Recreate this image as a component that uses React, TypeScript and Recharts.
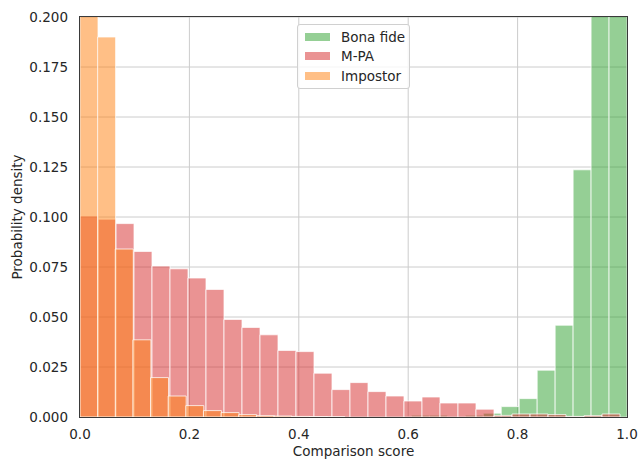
import React from 'react';
import { ComposedChart, Bar, XAxis, YAxis, CartesianGrid, Legend } from 'recharts';

// share of samples per bin (30 bins per series, each series has its own bin range)
const bonaFide = [
  0, 0, 0, 0, 0, 0, 0, 0, 0, 0, 0, 0, 0, 0, 0, 0, 0, 0,
  0.0009, 0.0009, 0, 0.0009, 0.0019, 0.0052, 0.0092, 0.0234, 0.0459, 0.1236, 0.27, 0.52,
];
const mpa = [
  0.1005, 0.0989, 0.0967, 0.0828, 0.0755, 0.0741, 0.0695, 0.0638, 0.0488, 0.0448,
  0.0411, 0.0333, 0.0327, 0.0219, 0.0137, 0.0172, 0.0127, 0.0105, 0.008, 0.01,
  0.007, 0.007, 0.0039, 0.0008, 0.0015, 0.0015, 0.0012, 0.0003, 0.0007, 0.0015,
];
const impostor = [
  0.643, 0.19, 0.084, 0.0386, 0.0197, 0.0105, 0.0057, 0.0032, 0.0022, 0.0012,
  0.0007, 0.0005, 0.0003, 0.0002, 0.0001, 0, 0, 0, 0, 0,
  0, 0, 0, 0, 0, 0, 0, 0, 0, 0,
];

const xTicks = [0, 0.2, 0.4, 0.6, 0.8, 1.0];
const yTicks = [0, 0.025, 0.05, 0.075, 0.1, 0.125, 0.15, 0.175, 0.2];

const series = [
  { key: 'bona', name: 'Bona fide', color: '#2ca02c', axis: 'g' },
  { key: 'mpa', name: 'M-PA', color: '#d62728', axis: 'r' },
  { key: 'imp', name: 'Impostor', color: '#ff7f0e', axis: 'o' },
];

const data = mpa.map((v, i) => ({
  bin: i,
  bona: bonaFide[i],
  mpa: v,
  imp: impostor[i],
}));

const FONT = 'DejaVu Sans, sans-serif';
const TEXT = '#262626';
const SPINE = '#3a3a3a';

// plot box (matches chart margins + axis sizes below)
const PLOT = { left: 80, top: 17, width: 547, height: 400 };

function LegendBox() {
  return (
    <div
      style={{
        position: 'relative',
        width: 111,
        height: 63,
        border: '1px solid #d0d0d0',
        borderRadius: 3,
        background: 'rgba(255,255,255,0.8)',
        fontFamily: FONT,
        fontSize: 13.5,
        color: TEXT,
        boxSizing: 'content-box',
      }}
    >
      {series.map((s, i) => (
        <div
          key={s.key}
          style={{ position: 'absolute', left: 0, top: 4 + i * 19.3, height: 16, display: 'flex', alignItems: 'center' }}
        >
          <div style={{ marginLeft: 7, width: 25, height: 8, background: s.color, opacity: 0.5 }} />
          <span style={{ marginLeft: 11, whiteSpace: 'nowrap', lineHeight: '16px' }}>{s.name}</span>
        </div>
      ))}
    </div>
  );
}

export default function App() {
  return (
    <div style={{ position: 'absolute', left: 0, top: 0, width: 639, height: 460, background: '#fff' }}>
      <ComposedChart
        width={639}
        height={460}
        data={data}
        margin={{ top: 17, right: 12, bottom: 0, left: 0 }}
        barCategoryGap={0}
        barGap={0}
      >
        <CartesianGrid xAxisId="score" stroke="#cccccc" strokeWidth={1} />
        <XAxis
          xAxisId="score"
          dataKey="bin"
          type="number"
          domain={[0, 1]}
          allowDataOverflow
          ticks={xTicks}
          interval={0}
          tickFormatter={(v: number) => v.toFixed(1)}
          height={43}
          tickSize={0}
          tickMargin={12}
          axisLine={false}
          tick={{ fontSize: 13.5, fill: TEXT, fontFamily: FONT }}
          label={{ value: 'Comparison score', position: 'insideBottom', offset: 4, fontSize: 13.5, fill: TEXT, fontFamily: FONT }}
        />
        {/* hidden bin axes, one per series */}
        <XAxis xAxisId="g" dataKey="bin" type="category" hide height={0} padding={{ left: 8, right: 0 }} />
        <XAxis xAxisId="r" dataKey="bin" type="category" hide height={0} padding={{ left: 0, right: 7 }} />
        <XAxis xAxisId="o" dataKey="bin" type="category" hide height={0} padding={{ left: 0, right: 18 }} />
        <YAxis
          type="number"
          domain={[0, 0.2]}
          allowDataOverflow
          ticks={yTicks}
          interval={0}
          tickFormatter={(v: number) => v.toFixed(3)}
          width={80}
          tickSize={0}
          tickMargin={12}
          axisLine={false}
          tick={{ fontSize: 13.5, fill: TEXT, fontFamily: FONT }}
          label={{
            value: 'Probability density',
            angle: -90,
            position: 'insideLeft',
            offset: 17,
            style: { textAnchor: 'middle', fontSize: 13.5, fill: TEXT, fontFamily: FONT },
          }}
        />
        {series.map((s) => (
          <Bar
            key={s.key}
            dataKey={s.key}
            name={s.name}
            xAxisId={s.axis}
            fill={s.color}
            fillOpacity={0.5}
            stroke="#ffffff"
            strokeOpacity={0.75}
            strokeWidth={1}
            isAnimationActive={false}
          />
        ))}
        <Legend
          verticalAlign="middle"
          align="center"
          layout="horizontal"
          wrapperStyle={{ left: 297, top: 24, bottom: 'auto', width: 113, height: 65 }}
          content={() => <LegendBox />}
        />
      </ComposedChart>
      {/* axes frame (spines) drawn above the bars */}
      <div
        style={{
          position: 'absolute',
          left: PLOT.left - 0.7,
          top: PLOT.top - 0.7,
          width: PLOT.width + 1.4,
          height: PLOT.height + 1.4,
          border: `1.4px solid ${SPINE}`,
          boxSizing: 'border-box',
          pointerEvents: 'none',
        }}
      />
    </div>
  );
}
